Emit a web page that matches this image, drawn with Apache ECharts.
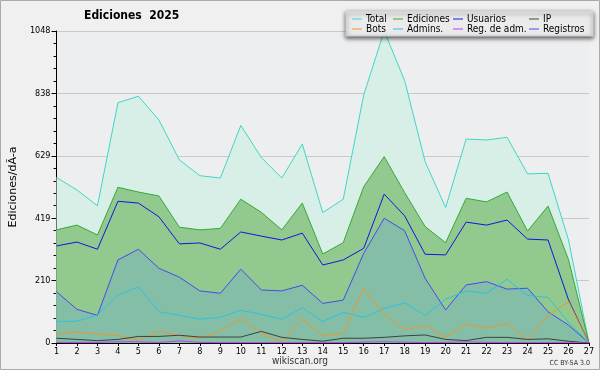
<!DOCTYPE html>
<html><head><meta charset="utf-8">
<script src="https://cdn.jsdelivr.net/npm/echarts@6/dist/echarts.min.js"></script>
<style>html,body{margin:0;padding:0;background:#f0f0f0}#c{width:600px;height:370px}</style>
</head><body><div id="c"></div>
<script>
const days = ['1','2','3','4','5','6','7','8','9','10','11','12','13','14','15','16','17','18','19','20','21','22','23','24','25','26','27'];
const total     = [556,514,461,807,829,749,615,562,554,731,623,554,668,438,483,833,1048,881,609,455,685,682,691,568,570,346,0];
const ediciones = [380,396,363,523,507,494,389,380,385,483,439,380,470,299,337,525,626,505,391,337,486,474,507,376,460,280,0];
const usuarios  = [326,339,315,476,470,424,333,336,315,373,359,346,369,262,279,318,500,427,298,296,406,396,413,349,346,145,0];
const ip        = [16,12,8,12,22,22,26,20,20,20,39,19,12,6,16,16,19,24,27,12,8,19,19,12,14,6,0];
const bots      = [30,37,30,26,10,39,25,16,40,81,33,4,81,24,33,184,97,44,59,19,64,49,66,10,92,139,0];
const admins    = [73,73,94,161,188,105,93,80,86,110,96,80,118,72,103,86,116,135,93,147,175,167,214,160,153,70,0];
const regAdm    = [2,2,2,4,4,2,7,2,1,1,1,1,1,1,1,3,4,3,1,2,4,2,1,1,1,1,0];
const registros = [172,113,93,279,315,251,221,175,167,248,178,175,194,133,144,301,419,377,217,111,195,206,181,184,105,60,0];
const yTicks = [0,210,419,629,838,1048];

const FONT = "'DejaVu Sans Condensed','DejaVu Sans',sans-serif";
const chart = echarts.init(document.getElementById('c'), null, {renderer:'canvas'});

function line(name, data, color, fill, extra){
  const s = {name, type:'line', data, color, symbol:'none', smooth:false,
    lineStyle:{width:1, color}, emphasis:{disabled:true}, silent:true, animation:false};
  if (fill) s.areaStyle = {color: fill, opacity:1};
  return Object.assign(s, extra||{});
}

const legendBase = {orient:'vertical', top:14, itemGap:0, itemWidth:10, itemHeight:1, icon:'rect',
  padding:0, selectedMode:false, z:6,
  textStyle:{fontFamily:FONT, fontSize:10, color:'#000', lineHeight:10, padding:[0,0,0,-1]}};

chart.setOption({
  backgroundColor:'#f0f0f0',
  animation:false,
  title:{text:'Ediciones  2025', left:84, top:10, padding:0,
    textStyle:{fontFamily:FONT, fontWeight:'bold', fontSize:12, color:'#000'}},
  grid:{left:47, right:11, top:31, bottom:27, show:true, backgroundColor:'#edeef0', borderWidth:0},
  legend:[
    Object.assign({}, legendBase, {left:352, data:['Total','Bots']}),
    Object.assign({}, legendBase, {left:393, data:['Ediciones','Admins.']}),
    Object.assign({}, legendBase, {left:453, data:['Usuarios','Reg. de adm.']}),
    Object.assign({}, legendBase, {left:529, data:['IP','Registros']})
  ],
  xAxis:{type:'category', data:days, boundaryGap:false,
    axisLine:{lineStyle:{color:'#000', width:1}},
    axisTick:{show:true, length:3, lineStyle:{color:'#000'}},
    axisLabel:{fontFamily:FONT, fontSize:9, color:'#000', margin:4, interval:0},
    splitLine:{show:false}},
  yAxis:{type:'value', min:0, max:1048, interval:209.6,
    name:'Ediciones/dÃ-a', nameLocation:'middle', nameGap:36, nameRotate:90,
    nameTextStyle:{fontFamily:"'DejaVu Sans',sans-serif", fontSize:11, color:'#000'},
    axisLine:{show:true, lineStyle:{color:'#000', width:1}},
    axisTick:{show:true, length:5, lineStyle:{color:'#000'}},
    minorTick:{show:true, splitNumber:5, length:3, lineStyle:{color:'#000'}},
    axisLabel:{fontFamily:FONT, fontSize:9, color:'#000', margin:6,
      formatter:(v)=>{ let best=yTicks[0]; yTicks.forEach(t=>{ if(Math.abs(t-v)<Math.abs(best-v)) best=t; }); return String(best);} },
    splitLine:{show:true, lineStyle:{color:'#c9c9c9', width:1}}},
  graphic:[
    {type:'rect', z:5, shape:{x:346, y:11, width:247, height:25},
      style:{fill:'rgba(255,255,255,0.88)', stroke:'#cfcfcf', lineWidth:1,
        shadowBlur:4, shadowColor:'rgba(0,0,0,0.7)', shadowOffsetY:2}},
    {type:'text', z:5, style:{x:300, y:361, text:'wikiscan.org', font:"10px "+FONT, fill:'#333', align:'center', verticalAlign:'middle'}},
    {type:'text', z:5, style:{x:590, y:363, text:'CC BY-SA 3.0', font:"7px "+FONT, fill:'#333', align:'right', verticalAlign:'middle'}},
    {type:'rect', z:10, shape:{x:0.5, y:0.5, width:599, height:369}, style:{fill:'none', stroke:'#a9a9a9', lineWidth:1}}
  ],
  series:[
    line('Total', total, '#3ed6c6', '#d8efe8'),
    line('Ediciones', ediciones, '#37a737', '#91c98f'),
    line('Usuarios', usuarios, '#1414e0'),
    line('Registros', registros, '#4848f2', '#85bea6'),
    line('Admins.', admins, '#2ac3de'),
    line('Bots', bots, '#ef952b'),
    line('IP', ip, '#3a4242'),
    line('Reg. de adm.', regAdm, '#c23bef')
  ]
});
</script></body></html>
